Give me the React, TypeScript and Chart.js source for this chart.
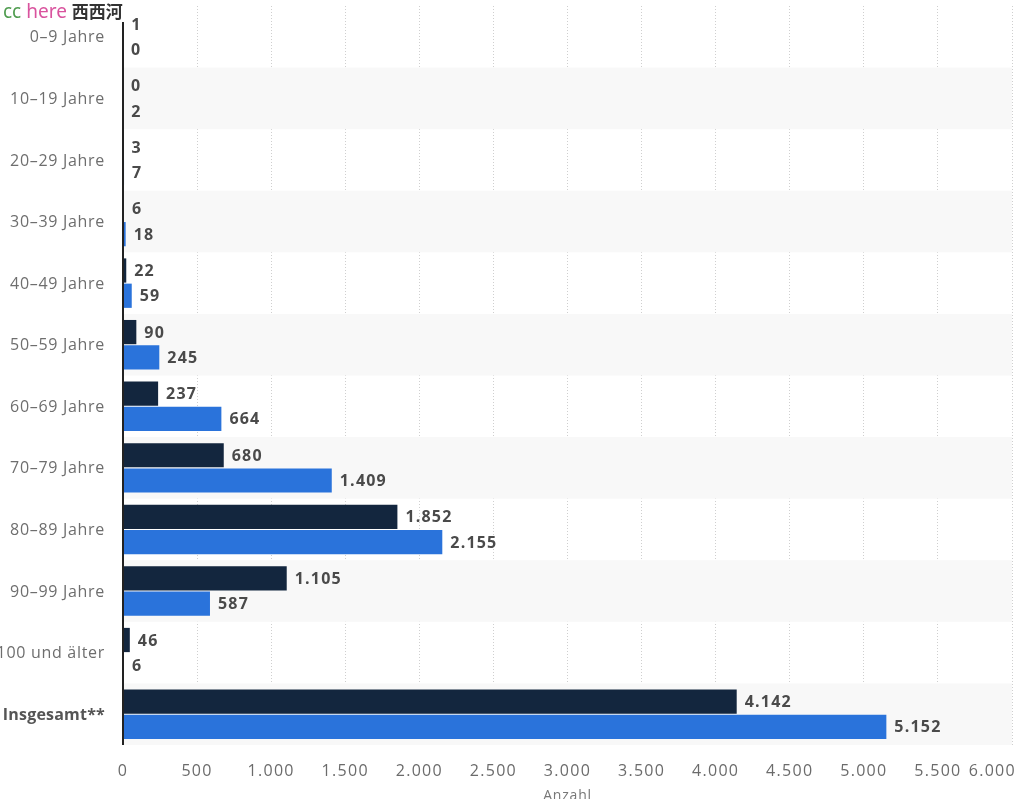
import React, { useEffect, useRef } from "react";
import { Chart, registerables } from "chart.js";

Chart.register(...registerables);

const categories = [
  "0–9 Jahre",
  "10–19 Jahre",
  "20–29 Jahre",
  "30–39 Jahre",
  "40–49 Jahre",
  "50–59 Jahre",
  "60–69 Jahre",
  "70–79 Jahre",
  "80–89 Jahre",
  "90–99 Jahre",
  "100 und älter",
  "Insgesamt**",
];
const seriesDark = [1, 0, 3, 6, 22, 90, 237, 680, 1852, 1105, 46, 4142];
const seriesBlue = [0, 2, 7, 18, 59, 245, 664, 1409, 2155, 587, 6, 5152];
const xTicks = [0, 500, 1000, 1500, 2000, 2500, 3000, 3500, 4000, 4500, 5000, 5500, 6000];
const xTitle = "Anzahl";

const FONT = "'Open Sans', 'Noto Sans', sans-serif";
const fmt = (v: number) => v.toLocaleString("de-DE");

const bandsPlugin = {
  id: "bands",
  beforeDatasetsDraw(chart: any) {
    const { ctx, chartArea, scales } = chart;
    const y = scales.y;
    const n = categories.length;
    const h = (chartArea.bottom - chartArea.top) / n;
    ctx.save();
    ctx.fillStyle = "#f8f8f8";
    for (let i = 1; i < n; i += 2) {
      const c = y.getPixelForValue(i);
      ctx.fillRect(chartArea.left, c - h / 2, chartArea.right - chartArea.left, h);
    }
    ctx.restore();
  },
};

const valuesPlugin = {
  id: "values",
  afterDatasetsDraw(chart: any) {
    const { ctx, chartArea } = chart;
    ctx.save();
    // y axis line
    ctx.strokeStyle = "#222";
    ctx.lineWidth = 2;
    ctx.beginPath();
    ctx.moveTo(chartArea.left, chartArea.top - 1);
    ctx.lineTo(chartArea.left, chartArea.bottom);
    ctx.stroke();
    ctx.font = `bold 16px ${FONT}`;
    (ctx as any).letterSpacing = "1.2px";
    ctx.fillStyle = "#4a4a4a";
    ctx.textAlign = "left";
    ctx.textBaseline = "middle";
    chart.data.datasets.forEach((ds: any, di: number) => {
      const meta = chart.getDatasetMeta(di);
      meta.data.forEach((bar: any, i: number) => {
        ctx.fillText(fmt(ds.data[i]), bar.x + 8, bar.y + 1);
      });
    });
    ctx.restore();
  },
};

const axisLabelsPlugin = {
  id: "axislabels",
  afterDraw(chart: any) {
    const { ctx, chartArea, scales } = chart;
    const x = scales.x;
    const y = scales.y;
    ctx.save();
    // x tick labels
    ctx.font = `16px ${FONT}`;
    (ctx as any).letterSpacing = "1.3px";
    ctx.fillStyle = "#6b6b6b";
    ctx.textBaseline = "middle";
    ctx.textAlign = "left";
    xTicks.forEach((v) => {
      const px = x.getPixelForValue(v);
      const label = fmt(v);
      const w = ctx.measureText(label).width;
      let left = px - w / 2;
      if (left + w > chart.width - 8) left = chart.width - 8 - w;
      ctx.fillText(label, left, chartArea.bottom + 26);
    });
    // y tick labels
    ctx.textAlign = "right";
    categories.forEach((c, i) => {
      const py = y.getPixelForValue(i);
      if (i === categories.length - 1) {
        ctx.font = `bold 16px ${FONT}`;
        (ctx as any).letterSpacing = "0.2px";
        ctx.fillStyle = "#555";
        ctx.fillText(c, chartArea.left - 18, py + 1);
      } else {
        ctx.font = `16px ${FONT}`;
        (ctx as any).letterSpacing = "0.7px";
        ctx.fillStyle = "#6e6e6e";
        ctx.fillText(c, chartArea.left - 18, py + 1);
      }
    });
    // x title
    ctx.font = `14px ${FONT}`;
    (ctx as any).letterSpacing = "0.8px";
    ctx.fillStyle = "#777";
    ctx.textAlign = "center";
    ctx.fillText(xTitle, (chartArea.left + chartArea.right) / 2, chartArea.bottom + 51);
    ctx.restore();
  },
};

export default function App() {
  const ref = useRef<HTMLCanvasElement>(null);
  useEffect(() => {
    if (!ref.current) return;
    const chart = new Chart(ref.current, {
      type: "bar",
      data: {
        labels: categories,
        datasets: [
          {
            label: "A",
            data: seriesDark,
            backgroundColor: "#13263e",
            categoryPercentage: 0.82,
            barPercentage: 0.96,
          },
          {
            label: "B",
            data: seriesBlue,
            backgroundColor: "#2a73db",
            categoryPercentage: 0.82,
            barPercentage: 0.96,
          },
        ],
      },
      options: {
        indexAxis: "y",
        animation: false,
        responsive: false,
        maintainAspectRatio: false,
        layout: { padding: { top: 6, right: 12, bottom: 54, left: 0 } },
        plugins: { legend: { display: false }, tooltip: { enabled: false } },
        scales: {
          x: {
            min: 0,
            max: 6000,
            ticks: { display: false, stepSize: 500 },
            grid: {
              color: "#cfcfcf",
              lineWidth: 1,
              drawTicks: false,
            },
            border: { display: false, dash: [1, 2] },
          },
          y: {
            afterFit(scale: any) {
              scale.width = 123;
              scale.paddingTop = 0;
              scale.paddingBottom = 0;
            },
            ticks: { display: false },
            grid: { display: false, drawTicks: false },
            border: { display: false },
          },
        },
      },
      plugins: [bandsPlugin, valuesPlugin, axisLabelsPlugin],
    });
    return () => chart.destroy();
  }, []);

  return (
    <div style={{ position: "absolute", left: 0, top: 0, width: 1024, height: 799, background: "#fff", overflow: "hidden" }}>
      <canvas ref={ref} width={1024} height={799} style={{ display: "block" }} />
      <div
        style={{
          position: "absolute",
          left: 3,
          top: 0,
          fontSize: 19,
          lineHeight: "22px",
          fontFamily: "'Noto Sans', 'Noto Sans CJK SC', sans-serif",
          background: "#fff",
          paddingRight: 2,
          whiteSpace: "nowrap",
        }}
      >
        <span style={{ color: "#4f9c4f" }}>cc</span>{" "}
        <span style={{ color: "#d9539e" }}>here</span>
        <span style={{ color: "#333", fontFamily: "'Noto Sans CJK SC', sans-serif", fontSize: 17, fontWeight: "bold", marginLeft: 5 }}>西西河</span>
      </div>
    </div>
  );
}
